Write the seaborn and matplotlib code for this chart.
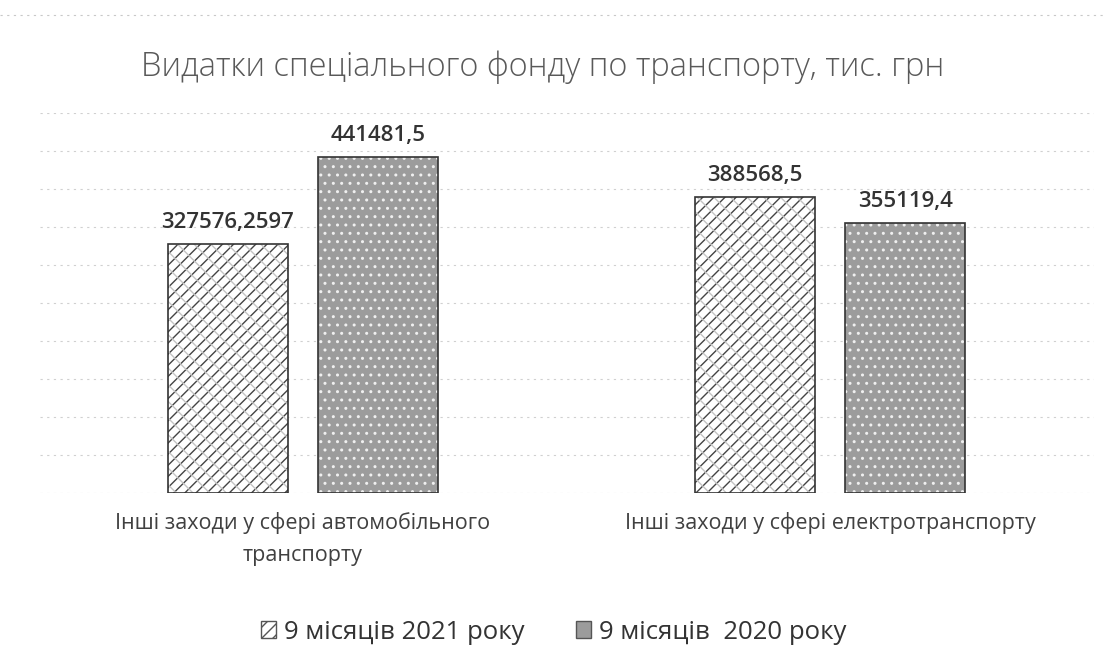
import matplotlib
matplotlib.use("Agg")
import matplotlib.pyplot as plt
from matplotlib.patches import Rectangle
from matplotlib.lines import Line2D
import seaborn as sns
import pandas as pd

# --- data ---
categories = [
    "Інші заходи у сфері автомобільного\nтранспорту",
    "Інші заходи у сфері електротранспорту",
]
series_names = ["9 місяців 2021 року", "9 місяців  2020 року"]
values_2021 = [327576.2597, 388568.5]
values_2020 = [441481.5, 355119.4]
label_2021 = ["327576,2597", "388568,5"]
label_2020 = ["441481,5", "355119,4"]
title = "Видатки спеціального фонду по транспорту, тис. грн"

df = pd.DataFrame({
    "category": categories * 2,
    "series": [series_names[0]] * 2 + [series_names[1]] * 2,
    "value": values_2021 + values_2020,
})

sns.set_theme(style="white")
plt.rcParams["font.family"] = ["Open Sans", "DejaVu Sans"]

fig = plt.figure(figsize=(11.07, 6.57), dpi=100)
ax = fig.add_axes([0.0357, 0.2496, 0.9522, 0.5788])

sns.barplot(
    data=df, x="category", y="value", hue="series",
    hue_order=series_names, order=categories,
    palette=["#ffffff", "#a0a0a0"], width=0.57, gap=0.2,
    ax=ax, legend=False, saturation=1,
)

ax.set_ylim(0, 500000)
ax.set_xlim(-0.5, 1.5)

# faint dotted gridlines
for yv in range(0, 500001, 50000):
    ax.axhline(yv, color="#d0d0d0", lw=0.8, ls=(0, (2, 4)), zorder=0)

# styling of bars
patches = list(ax.patches)
outline_kw = dict(fill=False, edgecolor="#333333", lw=1.2, zorder=4)
for i, p in enumerate(patches):
    x, y = p.get_x(), p.get_y()
    w, h = p.get_width(), p.get_height()
    if i < 2:
        p.set_facecolor("white")
        p.set_edgecolor("#444444")
        p.set_hatch("///")
        p.set_linewidth(0.0)
        # secondary fine cross pattern
        ax.add_patch(Rectangle((x, y), w, h, fill=False, hatch="\\\\",
                               edgecolor="#c4c4c4", lw=0, zorder=3))
    else:
        p.set_facecolor("#9c9c9c")
        p.set_edgecolor("#f0f0f0")
        p.set_hatch("..")
        p.set_linewidth(0.0)
    ax.add_patch(Rectangle((x, y), w, h, **outline_kw))

# value labels
labels = label_2021 + label_2020
for p, txt in zip(patches, labels):
    ax.annotate(txt, (p.get_x() + p.get_width() / 2, p.get_height()),
                xytext=(0, 8), textcoords="offset points",
                ha="center", va="bottom", fontsize=16, color="#333333",
                fontweight="semibold")

ax.set_xlabel("")
ax.set_ylabel("")
ax.set_yticks([])
ax.tick_params(axis="x", length=0, pad=14, labelsize=15.5, labelcolor="#404040")
for lbl in ax.get_xticklabels():
    lbl.set_linespacing(1.65)
for s in ax.spines.values():
    s.set_visible(False)

fig.text(0.49, 0.898, title, ha="center", va="center", fontsize=23.5,
         color="#595959", fontweight="light")

# top border of the chart area
fig.add_artist(Line2D([0.0, 1.0], [0.977, 0.977], color="#c8c8c8", lw=0.8,
                      ls=(0, (2, 4))))

# legend
handles = [
    Rectangle((0, 0), 1, 1, facecolor="white", edgecolor="#555555", hatch="///", lw=1),
    Rectangle((0, 0), 1, 1, facecolor="#9c9c9c", edgecolor="#555555", lw=1),
]
fig.legend(handles, series_names, loc="center", bbox_to_anchor=(0.5, 0.038),
           ncol=2, frameon=False, fontsize=18.5, handlelength=0.6,
           handleheight=0.6, handletextpad=0.3, columnspacing=2.0,
           labelcolor="#333333")

fig.savefig("out.png", dpi=100, facecolor="white")
